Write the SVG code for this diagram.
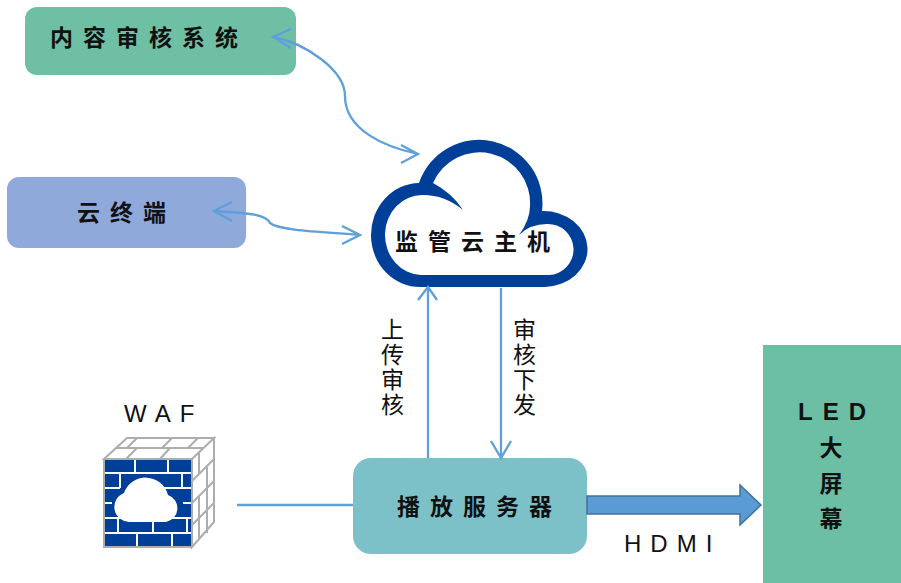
<svg xmlns="http://www.w3.org/2000/svg" width="901" height="583" viewBox="0 0 901 583">
<defs>
<style>
text{font-family:"Noto Sans CJK SC","Noto Sans",sans-serif;fill:#111}
.b{font-weight:700;font-size:23px;letter-spacing:10px}
.v{font-size:23px;writing-mode:vertical-rl;letter-spacing:2px}
.c{font-weight:700;font-size:23px;text-anchor:middle}
.l{font-family:"Liberation Sans",Arial,sans-serif;font-size:24px;letter-spacing:9px}
.cn{fill:none;stroke:#5f9fdb;stroke-width:2.3}
.g{fill:none;stroke:#adadad;stroke-width:2}
.w{fill:none;stroke:#fff;stroke-width:2}
</style>
</defs>
<rect width="901" height="583" fill="#fff"/>
<g id="audit-system"><rect x="25" y="7" width="271" height="68" rx="12" fill="#6fbfa5"/><text class="b" x="50" y="46">内容审核系统</text></g>
<g id="cloud-terminal"><rect x="7" y="177" width="239" height="71" rx="12" fill="#8fa9db"/><text class="b" x="77" y="221">云终端</text></g>
<g id="cloud-host">
<path fill="#003f98" fill-rule="evenodd" d="M421 287A49 52 0 0 1 419 183A63.4 63.4 0 0 1 542 211A44 38 0 1 1 545 287ZM421 275H549A25.5 25.5 0 1 0 547 224Q530 224 519 235Q530 220 530 206A50.6 50.6 0 0 0 433 183Q452 193 463 210Q445 195 423 195A37 40 0 0 0 421 275Z"/>
<text class="b" x="395" y="250">监管云主机</text>
</g>
<g id="playback-server"><rect x="353" y="458" width="234" height="96" rx="18" fill="#7cc1c8"/><text class="b" x="397" y="515">播放服务器</text></g>
<g id="led-screen"><rect x="763" y="345" width="138" height="238" fill="#6cbfa5"/>
<text x="798" y="420" style="font-family:'Liberation Sans',sans-serif;font-weight:700;letter-spacing:10px;font-size:24px">LED</text>
<text class="c" x="831" y="456">大</text><text class="c" x="831" y="492">屏</text><text class="c" x="831" y="527">幕</text></g>
<g id="waf">
<text class="l" x="124" y="422">WAF</text>
<rect x="104" y="459" width="88" height="88" fill="#003f98"/>
<path class="w" d="M104 473H192M104 488H120M155 488H192M104 503H112M183 503H192M104 518H192M104 533H192M135 459V473M168 459V473M120 473V488M182 473V488M118 518V533M153 518V533M187 518V533M137 533V547M172 533V547"/>
<path fill="#fff" d="M130 522A15 15 0 0 1 124 493A23 23 0 0 1 168 495A14 14 0 0 1 166 522Z"/>
<path fill="#fff" stroke="#adadad" stroke-width="2" d="M104 459L127 438H214L192 459ZM192 459L214 438V522L192 547Z"/>
<path class="g" d="M104 459V547H192M116 448H204M137 438L127 448M172 438L162 448M198 438L188 448M137 448L126 459M170 448L160 459M192 481L214 459M192 503L214 481M192 525L214 503M199 452V474M207 467V489M199 496V518M207 489V511M199 518V540M207 511V533"/>
</g>
<g id="connectors">
<path class="cn" d="M273 37C305 43 345 70 345 96C345 130 385 147 418 154M291 29L273 37L291 48M401 145L418 154L401 163"/>
<path class="cn" d="M214 211C235 213 265 212 270 223C280 231 325 232 360 235M232 202L214 211L232 221M342 226L360 235L342 244"/>
<path class="cn" d="M428 458V287M418 300L428 287L437 300"/>
<path class="cn" d="M501 288V458M491 441L501 458L511 441"/>
<path class="cn" d="M237 505H353"/>
<path fill="#5b9bd5" stroke="#41719c" stroke-width="1.5" d="M587 496H740V485L761 505L740 525V514H587Z"/>
</g>
<g id="edge-labels">
<text class="v" x="392.5" y="318">上传审核</text>
<text class="v" x="524.5" y="318">审核下发</text>
<text class="l" x="624" y="552">HDMI</text>
</g>
</svg>
